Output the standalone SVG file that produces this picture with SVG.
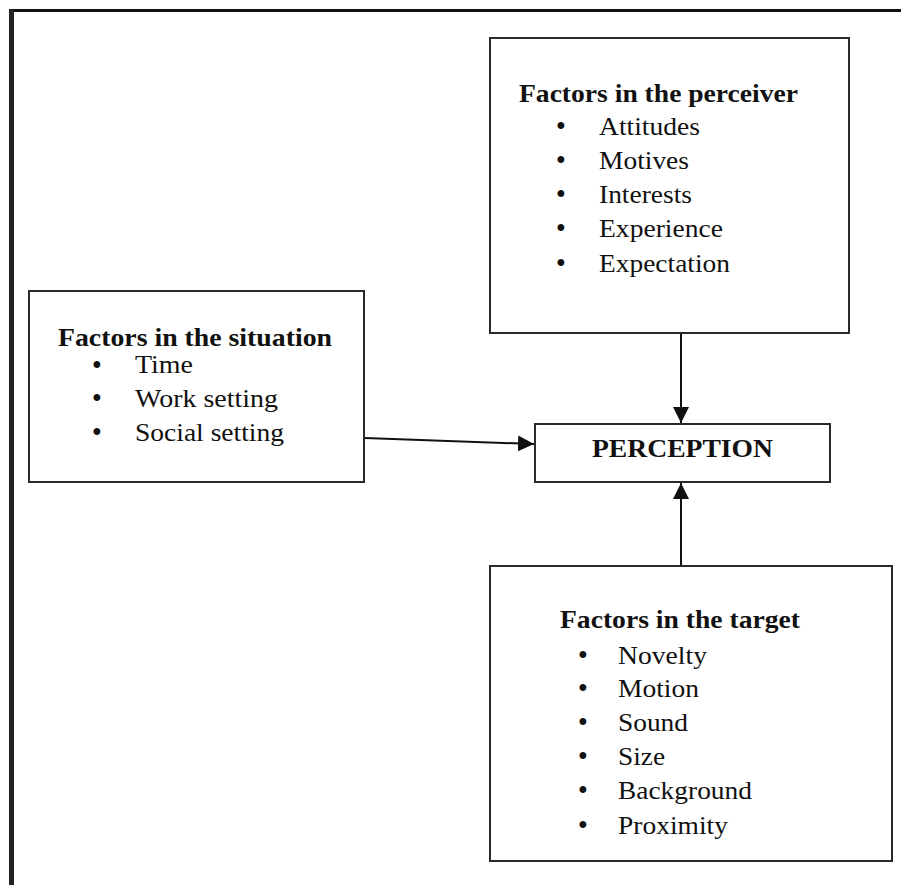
<svg xmlns="http://www.w3.org/2000/svg" width="901" height="885" viewBox="0 0 901 885">
<defs>
<style>
.box{fill:#fff;stroke:#2a2a2a;stroke-width:2}
.t{font-family:"Liberation Serif","Times New Roman",serif;font-size:25px;fill:#111}
.b{font-weight:bold}
.d{font-family:"Liberation Serif","Times New Roman",serif;font-size:25px;font-weight:bold;fill:#111}
.c{stroke:#111;stroke-width:2;fill:none}
</style>
<marker id="ah" viewBox="0 0 16 16" refX="16" refY="8" markerWidth="16" markerHeight="16" markerUnits="userSpaceOnUse" orient="auto">
<path d="M0,0 L16,8 L0,16 Z" fill="#111"/>
</marker>
</defs>
<rect x="0" y="0" width="901" height="885" fill="#fff"/>
<g id="frame">
<line x1="9" y1="10.5" x2="901" y2="10.5" stroke="#111" stroke-width="3"/>
<line x1="11.5" y1="9" x2="11.5" y2="885" stroke="#222" stroke-width="5"/>
</g>
<g id="connectors">
<line class="c" x1="681" y1="334" x2="681" y2="423" marker-end="url(#ah)"/>
<line class="c" x1="681" y1="566" x2="681" y2="483" marker-end="url(#ah)"/>
<line class="c" x1="365" y1="438" x2="534" y2="444" marker-end="url(#ah)"/>
</g>
<g id="perceiver">
<rect class="box" x="490" y="38" width="359" height="295"/>
<text class="t b" x="519" y="102" textLength="279" lengthAdjust="spacingAndGlyphs">Factors in the perceiver</text>
<text class="d" x="556.5" y="134">•</text><text class="t" x="599" y="135" textLength="101" lengthAdjust="spacingAndGlyphs">Attitudes</text>
<text class="d" x="556.5" y="168">•</text><text class="t" x="599" y="169" textLength="90" lengthAdjust="spacingAndGlyphs">Motives</text>
<text class="d" x="556.5" y="202">•</text><text class="t" x="599" y="203" textLength="93" lengthAdjust="spacingAndGlyphs">Interests</text>
<text class="d" x="556.5" y="236">•</text><text class="t" x="599" y="237" textLength="124" lengthAdjust="spacingAndGlyphs">Experience</text>
<text class="d" x="556.5" y="271">•</text><text class="t" x="599" y="272" textLength="131" lengthAdjust="spacingAndGlyphs">Expectation</text>
</g>
<g id="situation">
<rect class="box" x="29" y="291" width="335" height="191"/>
<text class="t b" x="58" y="346" textLength="274" lengthAdjust="spacingAndGlyphs">Factors in the situation</text>
<text class="d" x="92.5" y="373">•</text><text class="t" x="135" y="373" textLength="58" lengthAdjust="spacingAndGlyphs">Time</text>
<text class="d" x="92.5" y="406">•</text><text class="t" x="135" y="407" textLength="143" lengthAdjust="spacingAndGlyphs">Work setting</text>
<text class="d" x="92.5" y="440">•</text><text class="t" x="135" y="441" textLength="149" lengthAdjust="spacingAndGlyphs">Social setting</text>
</g>
<g id="perception">
<rect class="box" x="535" y="424" width="295" height="58"/>
<text class="t b" x="592" y="457" textLength="181" lengthAdjust="spacingAndGlyphs">PERCEPTION</text>
</g>
<g id="target">
<rect class="box" x="490" y="566" width="402" height="295"/>
<text class="t b" x="560" y="628" textLength="240" lengthAdjust="spacingAndGlyphs">Factors in the target</text>
<text class="d" x="578.5" y="663">•</text><text class="t" x="618" y="664" textLength="89" lengthAdjust="spacingAndGlyphs">Novelty</text>
<text class="d" x="578.5" y="696">•</text><text class="t" x="618" y="697" textLength="81" lengthAdjust="spacingAndGlyphs">Motion</text>
<text class="d" x="578.5" y="730">•</text><text class="t" x="618" y="731" textLength="70" lengthAdjust="spacingAndGlyphs">Sound</text>
<text class="d" x="578.5" y="764">•</text><text class="t" x="618" y="765" textLength="47" lengthAdjust="spacingAndGlyphs">Size</text>
<text class="d" x="578.5" y="798">•</text><text class="t" x="618" y="799" textLength="134" lengthAdjust="spacingAndGlyphs">Background</text>
<text class="d" x="578.5" y="833">•</text><text class="t" x="618" y="834" textLength="110" lengthAdjust="spacingAndGlyphs">Proximity</text>
</g>
</svg>
